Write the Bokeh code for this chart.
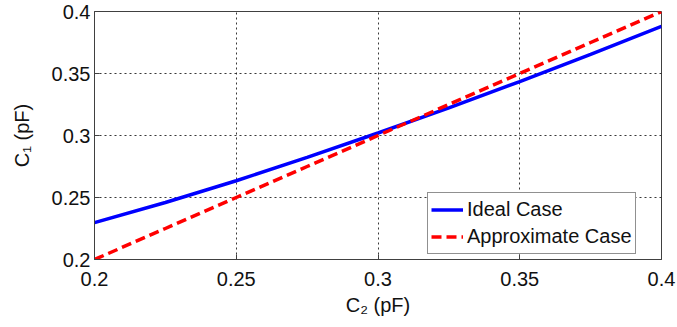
from bokeh.plotting import figure
from bokeh.models import FixedTicker, Legend, LegendItem
from bokeh.embed import file_html
from bokeh.resources import INLINE

# Data
c2 = [0.2, 0.225, 0.25, 0.275, 0.3, 0.325, 0.35, 0.375, 0.4]
ideal = [0.2297, 0.246, 0.2635, 0.2823, 0.302, 0.3222, 0.3435, 0.3655, 0.388]
approx = [0.2, 0.225, 0.25, 0.275, 0.3, 0.325, 0.35, 0.375, 0.4]
ticks = [0.2, 0.25, 0.3, 0.35, 0.4]
tick_labels = ["0.2", "0.25", "0.3", "0.35", "0.4"]
series_names = ["Ideal Case", "Approximate Case"]
x_title = "C\u2082 (pF)"
y_title = "C\u2081 (pF)"

FONT = "Liberation Sans"

p = figure(width=677, height=327, x_range=(0.2, 0.4), y_range=(0.2, 0.4),
           output_backend="svg", toolbar_location=None,
           min_border_left=94, min_border_right=16, min_border_top=11, min_border_bottom=68)
p.background_fill_color = "white"
p.border_fill_color = "white"
p.outline_line_color = "#404040"
p.outline_line_width = 1

for ax in (p.xaxis, p.yaxis):
    ax.ticker = FixedTicker(ticks=ticks)
    ax.major_label_overrides = {t: l for t, l in zip(ticks, tick_labels)}
    ax.major_label_text_font = FONT
    ax.major_label_text_font_size = "20px"
    ax.major_label_text_color = "#111111"
    ax.axis_line_color = "#404040"
    ax.major_tick_line_color = "#404040"
    ax.major_tick_in = 5
    ax.major_tick_out = 0
    ax.minor_tick_line_color = None
    ax.axis_label_text_font = FONT
    ax.axis_label_text_font_size = "20px"
    ax.axis_label_text_font_style = "normal"
    ax.axis_label_text_color = "#111111"
p.xaxis.major_label_standoff = 12
p.yaxis.major_label_standoff = 4
p.xaxis.axis_label = x_title
p.yaxis.axis_label = y_title
p.xaxis.axis_label_standoff = 5
p.yaxis.axis_label_standoff = 16

for g in (p.xgrid, p.ygrid):
    g.grid_line_color = "#222222"
    g.grid_line_dash = "2 3"
    g.grid_line_width = 1
    g.grid_line_alpha = 0.9

r1 = p.line(c2, ideal, line_color="#0000ff", line_width=3.5)
r2 = p.line(c2, approx, line_color="#ff0000", line_width=3.5, line_dash="10 5")

legend = Legend(items=[LegendItem(label=series_names[0], renderers=[r1]),
                       LegendItem(label=series_names[1], renderers=[r2])],
                location=(333, 5))
legend.label_text_font = FONT
legend.label_text_font_size = "20px"
legend.label_text_color = "#111111"
legend.glyph_width = 32
legend.glyph_height = 27
legend.label_height = 27
legend.label_standoff = 4
legend.spacing = 0
legend.padding = 3
legend.margin = 0
legend.border_line_color = "#222222"
legend.border_line_width = 1
legend.background_fill_color = "white"
legend.background_fill_alpha = 1
p.add_layout(legend, "center")

open("out.html", "w").write(file_html(p, INLINE))
